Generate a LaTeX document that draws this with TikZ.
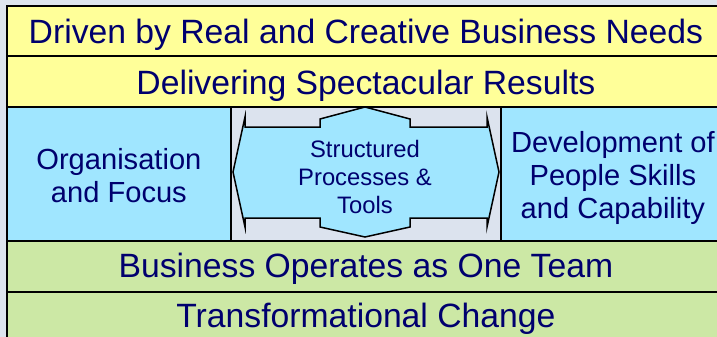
\documentclass[tikz,border=0pt]{standalone}
\usepackage{fontspec}
\setmainfont{Liberation Sans}
\definecolor{bgc}{RGB}{221,228,238}
\definecolor{yel}{RGB}{255,255,153}
\definecolor{blu}{RGB}{160,230,255}
\definecolor{grn}{RGB}{204,232,165}
\definecolor{midg}{RGB}{220,227,238}
\definecolor{navytxt}{RGB}{0,0,110}
\tikzset{
  band/.style={draw=black, line width=1.8pt, inner sep=0pt, anchor=north west,
    minimum width=718pt, text=navytxt,
    font=\fontsize{33.7}{38}\selectfont},
  sidebox/.style={draw=black, line width=1.8pt, fill=blu, inner sep=0pt, anchor=north west,
    minimum width=224pt, minimum height=134pt, text=navytxt,
    font=\fontsize{29.1}{33}\selectfont},
  midpanel/.style={draw=black, line width=1.8pt, fill=midg, inner sep=0pt, anchor=north west,
    minimum width=270pt, minimum height=134pt},
  arrowshape/.style={draw=black, line width=1.5pt, fill=blu, line join=miter},
  midtext/.style={text=navytxt, inner sep=0pt, anchor=base,
    font=\fontsize{23.8}{28}\selectfont}
}
\begin{document}
\begin{tikzpicture}[x=1pt,y=-1pt]
\useasboundingbox (0,0) rectangle (717,337);
\clip (0,0) rectangle (717,337);
\fill[bgc] (0,0) rectangle (717,337);

% rows
\node[band, fill=yel, minimum height=50pt, text height=38pt, text depth=12pt] (r1) at (6,5)
  {Driven by Real and Creative Business Needs};
\node[band, fill=yel, minimum height=51pt, text height=39pt, text depth=12pt] (r2) at (6,55)
  {Delivering Spectacular Results};
\node[band, fill=grn, minimum height=51pt, text height=37pt, text depth=14pt] (r4) at (6,240)
  {Business Operates as One Team};
\node[band, fill=grn, minimum height=50pt, text height=36pt, text depth=14pt] (r5) at (6,291)
  {Transformational Change};

% side columns
\node[sidebox, text height=63pt, text depth=71pt] (left) at (6,106)
  {\begin{tabular}[t]{@{}c@{}}Organisation\\and Focus\end{tabular}};
\node[sidebox, text height=46pt, text depth=88pt] (right) at (500,106)
  {\begin{tabular}[t]{@{}c@{}}Development of\\People Skills\\and Capability\end{tabular}};

% middle panel
\node[midpanel] (mid) at (230,106) {};
\draw[arrowshape]
  (365,107) -- (320,119) -- (320,127) -- (245,127) -- (245,117) -- (233,172)
  -- (245,227) -- (245,218) -- (320,218) -- (320,227) -- (365,237)
  -- (410,227) -- (410,218) -- (487,218) -- (487,227) -- (499,172)
  -- (487,117) -- (487,127) -- (410,127) -- (410,119) -- cycle;
\node[midtext] (mt) at (365,157)
  {\begin{tabular}[t]{@{}c@{}}Structured\\Processes \&\\Tools\end{tabular}};
\end{tikzpicture}
\end{document}
